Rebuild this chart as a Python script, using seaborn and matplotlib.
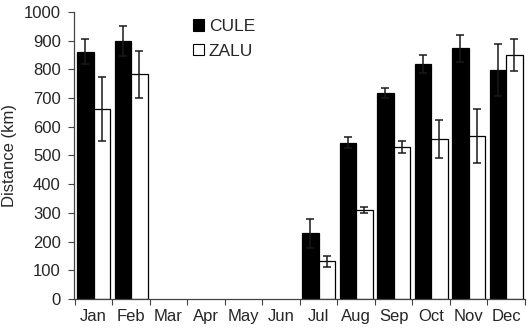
import numpy as np
import pandas as pd
import matplotlib
matplotlib.use("Agg")
import matplotlib.pyplot as plt
import seaborn as sns
from matplotlib.patches import Patch

months = ["Jan", "Feb", "Mar", "Apr", "May", "Jun", "Jul", "Aug", "Sep", "Oct", "Nov", "Dec"]
cule = [862, 900, np.nan, np.nan, np.nan, np.nan, 229, 545, 718, 818, 873, 798]
cule_err = [44, 52, np.nan, np.nan, np.nan, np.nan, 51, 19, 16, 32, 46, 90]
zalu = [662, 783, np.nan, np.nan, np.nan, np.nan, 131, 310, 530, 556, 568, 850]
zalu_err = [112, 82, np.nan, np.nan, np.nan, np.nan, 20, 12, 20, 66, 94, 56]
series = ["CULE", "ZALU"]
yticks = list(range(0, 1001, 100))

sns.set_style("white")
plt.rcParams['font.family'] = ['Liberation Sans', 'DejaVu Sans']

df = pd.DataFrame({
    "month": months * 2,
    "value": cule + zalu,
    "site": ["CULE"] * 12 + ["ZALU"] * 12,
})

fig = plt.figure(figsize=(5.3, 3.34), dpi=100)
ax = fig.add_axes([74 / 530, 1 - 299 / 334, (525 - 74) / 530, (299 - 12) / 334])

sns.barplot(data=df, x="month", y="value", hue="site", order=months,
            hue_order=series, palette={"CULE": "black", "ZALU": "white"},
            edgecolor="black", linewidth=0.9, width=0.88, errorbar=None,
            ax=ax, legend=False)

offs = [-0.22, 0.22]
for vals, errs, off in [(cule, cule_err, offs[0]), (zalu, zalu_err, offs[1])]:
    x = np.arange(len(months)) + off
    v = np.array(vals, dtype=float)
    e = np.array(errs, dtype=float)
    m = ~np.isnan(v)
    ax.errorbar(x[m], v[m], yerr=e[m], fmt="none", ecolor="#1a1a1a", elinewidth=1.1,
                capsize=3, capthick=1.1, zorder=5)

ax.set_xlim(-0.52, 11.5)
ax.set_ylim(0, 1000)
ax.set_yticks(yticks)
ax.set_yticklabels([str(t) for t in yticks], fontsize=12)
ax.set_xticks(np.arange(12))
ax.set_xticklabels(months, fontsize=12)
ax.set_xticks(np.arange(-0.5, 12, 1), minor=True)
ax.tick_params(axis="x", which="major", length=0, pad=7)
ax.tick_params(axis="x", which="minor", length=4, width=0.8, color="#444444", direction="out", bottom=True)
ax.tick_params(axis="y", length=4.5, width=0.8, color="#444444", direction="out", left=True, pad=5)
for s in ["top", "right"]:
    ax.spines[s].set_visible(False)
for s in ["left", "bottom"]:
    ax.spines[s].set_color("#444444")
    ax.spines[s].set_linewidth(0.9)
ax.set_xlabel("")
ax.set_ylabel("Distance (km)", fontsize=12, labelpad=5)

handles = [Patch(facecolor="black", edgecolor="black", linewidth=0.8),
           Patch(facecolor="white", edgecolor="black", linewidth=0.8)]
fig.legend(handles, series, loc="upper left", bbox_to_anchor=(181 / 530, 1 - 7 / 334),
           frameon=False, fontsize=12.5, handlelength=0.65, handleheight=0.65,
           handletextpad=0.25, labelspacing=0.55, borderpad=0.2)

fig.savefig("out.png", dpi=100)
